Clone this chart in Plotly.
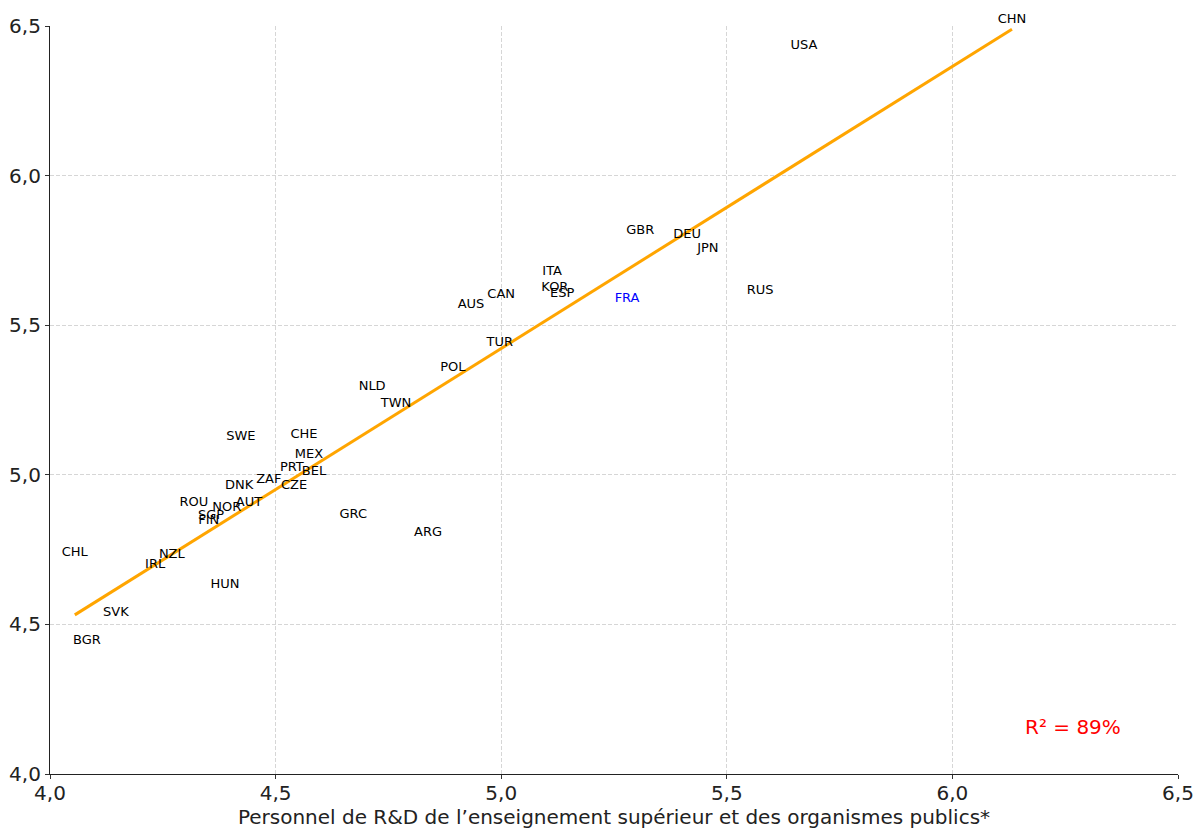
import numpy as np
import plotly.graph_objects as go

countries = ["CHN", "USA", "GBR", "DEU", "JPN", "RUS", "ITA", "KOR", "ESP", "FRA",
             "CAN", "AUS", "TUR", "POL", "NLD", "TWN", "SWE", "CHE", "MEX", "PRT",
             "BEL", "ZAF", "CZE", "DNK", "AUT", "ROU", "NOR", "SGP", "FIN", "GRC",
             "ARG", "CHL", "NZL", "IRL", "HUN", "SVK", "BGR"]
x_vals = [6.132, 5.671, 5.308, 5.412, 5.458, 5.574, 5.113, 5.119, 5.135, 5.279,
          5.000, 4.933, 4.997, 4.893, 4.714, 4.767, 4.423, 4.563, 4.574, 4.536,
          4.585, 4.485, 4.541, 4.419, 4.441, 4.319, 4.392, 4.357, 4.352, 4.672,
          4.838, 4.055, 4.270, 4.233, 4.388, 4.146, 4.082]
y_vals = [6.499, 6.413, 5.795, 5.781, 5.735, 5.594, 5.658, 5.604, 5.584, 5.568,
          5.581, 5.547, 5.420, 5.337, 5.273, 5.217, 5.106, 5.113, 5.046, 5.003,
          4.989, 4.963, 4.943, 4.943, 4.886, 4.886, 4.869, 4.842, 4.826, 4.846,
          4.785, 4.719, 4.712, 4.678, 4.612, 4.518, 4.424]
tick_vals = [4.0, 4.5, 5.0, 5.5, 6.0, 6.5]
tick_text = ["4,0", "4,5", "5,0", "5,5", "6,0", "6,5"]
highlight = "FRA"
r2_label = "R² = 89%"
x_title = "Personnel de R&D de l’enseignement supérieur et des organismes publics*"

x = np.array(x_vals)
y = np.array(y_vals)
slope, intercept = np.polyfit(x, y, 1)
x_line = np.array([x.min(), x.max()])
y_line = slope * x_line + intercept

colors = ["#0000ff" if c == highlight else "#000000" for c in countries]

fig = go.Figure()
fig.add_trace(go.Scatter(x=x_line, y=y_line, mode="lines",
                         line=dict(color="#ffa500", width=3), hoverinfo="skip"))
fig.add_trace(go.Scatter(x=x_vals, y=y_vals, mode="text", text=countries,
                         textposition="top center", cliponaxis=False,
                         textfont=dict(family="DejaVu Sans", size=13, color=colors)))

fig.add_annotation(x=0.907, y=0.063, xref="paper", yref="paper", text=r2_label,
                   xanchor="center", yanchor="middle",
                   showarrow=False, font=dict(family="DejaVu Sans", size=20, color="#ff0000"))

axis_common = dict(
    tickvals=tick_vals, ticktext=tick_text, showgrid=True,
    gridcolor="#d6d6d6", griddash="4px,2px", gridwidth=1,
    ticks="outside", ticklen=4, tickcolor="#333333",
    tickfont=dict(family="DejaVu Sans", size=20, color="#222222"),
    zeroline=False, range=[4.0, 6.5], automargin=False,
)
fig.update_xaxes(**axis_common, showline=True, linecolor="#222222", linewidth=1.2,
                 ticklabelstandoff=-3,
                 title=dict(text=x_title, font=dict(family="DejaVu Sans", size=20, color="#222222"),
                            standoff=4))
fig.update_yaxes(**axis_common, showline=True, linecolor="#222222", linewidth=1.2)

fig.update_layout(
    width=1203, height=828,
    margin=dict(l=42, r=33, t=18, b=62),
    plot_bgcolor="white", paper_bgcolor="white",
    showlegend=False,
)
fig.write_html("out.html")
